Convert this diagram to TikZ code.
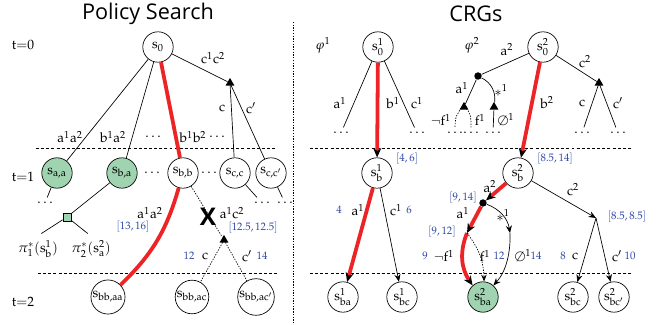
\documentclass[tikz,border=0pt]{standalone}
\usepackage[no-math]{fontspec}
\newfontfamily\titlefont{Open Sans}
\usepackage{mathpazo}
\usepackage{tikz}
\usetikzlibrary{arrows.meta, shapes.geometric, positioning}

\definecolor{leafgreen}{RGB}{160,212,176}
\definecolor{optred}{RGB}{236,36,38}
\definecolor{boundblue}{RGB}{48,72,168}

\tikzset{
  state/.style={circle, draw, line width=0.5pt, minimum size=22.5pt, inner sep=0.5pt},
  goal/.style={state, fill=leafgreen},
  chance/.style={regular polygon, regular polygon sides=3, fill, inner sep=0pt, minimum size=7.5pt},
  joint/.style={circle, fill, inner sep=0pt, minimum size=5.5pt},
  bound/.style={text=boundblue, font=\footnotesize},
  edge/.style={line width=0.5pt},
  opt/.style={draw=optred, line width=2.8pt},
  optarrow/.style={opt, -{Stealth[length=7pt, width=6pt, color=black]}},
  arc/.style={edge, -{Stealth[length=5.5pt, width=4.5pt]}},
  fine/.style={line width=0.5pt, dash pattern=on 1pt off 1pt},
  level/.style={line width=0.5pt, dash pattern=on 2.2pt off 1.6pt},
  title/.style={font=\titlefont\fontsize{16}{18}\selectfont}
}

\begin{document}
\begin{tikzpicture}[x=0.74pt, y=-0.74pt]
    \useasboundingbox (0,0) rectangle (666,325);

    % 1. Titles, time steps, separators
    \node[title] (titlePS) at (148,14) {Policy Search};
    \node[title] (titleCRG) at (476,14) {CRGs};
    \node (t0) at (23,45) {$\mathrm{t{=}0}$};
    \node (t1) at (23,177) {$\mathrm{t{=}1}$};
    \node (t2) at (23,302) {$\mathrm{t{=}2}$};
    \draw[level] (36,148) -- (275,148);
    \draw[level] (38,273) -- (277,273);
    \draw[level] (310,148) -- (435,148);
    \draw[level] (438,148) -- (633,148);
    \draw[level] (310,273) -- (435,273);
    \draw[level] (438,273) -- (633,273);
    \draw[fine] (293,22) -- (293,325);

    % 2. Policy search: nodes
    \node[state] (s0) at (158,47) {$\mathrm{s}_0$};
    \node[chance] (c0) at (230,83) {};
    \node[goal] (saa) at (57,173) {$\mathrm{s_{a,a}}$};
    \node[goal] (sba) at (122,173) {$\mathrm{s_{b,a}}$};
    \node (dotsA) at (152,173) {$\dots$};
    \node[state] (sbb) at (183,173) {$\mathrm{s_{b,b}}$};
    \node (dotsB) at (209,173) {$\dots$};
    \node[state] (scc) at (235,173) {$\mathrm{s_{c,c}}$};
    \node[state] (sccp) at (271,173) {$\mathrm{s_{c,c'}}$};
    \node (saaDots) at (45,203) {$\dots$};
    \node (sccDots) at (262,203) {$\dots$};
    \node (sccpDots) at (285,203) {$\dots$};
    \node[draw, fill=leafgreen, line width=0.5pt, inner sep=0pt, minimum size=6pt] (pol) at (67,217) {};
    \node (pi1) at (38,249) {$\pi_1^*(\mathrm{s_b^1})$};
    \node (pi2) at (91,249) {$\pi_2^*(\mathrm{s_a^2})$};
    \node[chance] (c1) at (224,240) {};
    \node[state] (sbbaa) at (108,297) {$\mathrm{s_{bb,aa}}$};
    \node[state] (sbbac) at (192,297) {$\mathrm{s_{bb,ac}}$};
    \node[state] (sbbacp) at (256,297) {$\mathrm{s_{bb,ac'}}$};

    % 3. Policy search: edges
    \draw[edge] (s0) -- (saa);
    \draw[edge] (s0) -- (sba);
    \draw[opt] (s0) -- (sbb);
    \draw[edge] (s0) -- (c0);
    \draw[edge] (c0.center) -- (scc);
    \draw[edge] (c0.center) -- (sccp);
    \draw[edge] (saa) -- (saaDots);
    \draw[edge] (sba) -- (pol);
    \draw[edge, shorten >=3pt] (pol) -- (pi1.north);
    \draw[edge, shorten >=3pt] (pol) -- (pi2.north);
    \draw[edge] (scc) -- (sccDots);
    \draw[edge] (sccp) -- (sccpDots);
    \draw[opt] (sbb) to[bend left=15] (sbbaa);
    \draw[fine] (sbb) -- (c1);
    \draw[fine] (c1.center) -- (sbbac);
    \draw[fine] (c1.center) -- (sbbacp);
    \node[font=\titlefont\bfseries\fontsize{18}{18}\selectfont] (cut) at (208,217) {X};

    % 4. Policy search: labels
    \node (lc1c2) at (213,58) {$\mathrm{c^1c^2}$};
    \node (lc) at (222,108) {$\mathrm{c}$};
    \node (lcp) at (251,108) {$\mathrm{c'}$};
    \node (laa) at (70,137) {$\mathrm{a^1a^2}$};
    \node (lba) at (113,137) {$\mathrm{b^1a^2}$};
    \node (ldotsA) at (153,137) {$\dots$};
    \node (lbb) at (193,137) {$\mathrm{b^1b^2}$};
    \node (ldotsB) at (217,137) {$\dots$};
    \node (laa2) at (150,213) {$\mathrm{a^1a^2}$};
    \node[bound] (baa2) at (133,227) {$[13, 16]$};
    \node (lac2) at (232,213) {$\mathrm{a^1c^2}$};
    \node[bound] (bac2) at (253,228) {$[12.5, 12.5]$};
    \node[bound] (bc) at (189,256) {$12$};
    \node (lc2) at (205,256) {$\mathrm{c}$};
    \node (lcp2) at (247,256) {$\mathrm{c'}$};
    \node[bound] (bcp) at (262,256) {$14$};

    % 5. CRGs: nodes
    \node (phi1) at (323,45) {$\varphi^1$};
    \node (phi2) at (472,45) {$\varphi^2$};
    \node[state] (r1) at (378,47) {$\mathrm{s_0^1}$};
    \node (r1a) at (341,133) {$\dots$};
    \node (r1c) at (417,133) {$\dots$};
    \node[state] (b1) at (377,173) {$\mathrm{s_b^1}$};
    \node[state] (ba1) at (343,297) {$\mathrm{s_{ba}^1}$};
    \node[state] (bc1) at (402,297) {$\mathrm{s_{bc}^1}$};
    \node[state] (r2) at (543,47) {$\mathrm{s_0^2}$};
    \node[joint] (j1) at (478,76) {};
    \node[chance] (cL1) at (464,107) {};
    \node[chance] (cR1) at (494,107) {};
    \node[chance] (cC1) at (599,83) {};
    \node (nfDots) at (455,133) {$\dots$};
    \node (fDots) at (471,133) {$\dots$};
    \node (eDots) at (493,133) {$\dots$};
    \node (cDots) at (582,133) {$\dots$};
    \node (cpDots) at (618,133) {$\dots$};
    \node[state] (b2) at (518,173) {$\mathrm{s_b^2}$};
    \node[joint] (j2) at (483,203) {};
    \coordinate (cL2) at (467,233);
    \coordinate (cR2) at (510,233);
    \coordinate (cC2) at (596,218);
    \node[goal] (ba2) at (483,297) {$\mathrm{s_{ba}^2}$};
    \node[state] (bc2) at (573,297) {$\mathrm{s_{bc}^2}$};
    \node[state] (bcp2) at (614,297) {$\mathrm{s_{bc'}^2}$};

    % 6. CRGs: edges
    \draw[edge] (r1) -- (r1a);
    \draw[edge] (r1) -- (r1c);
    \draw[optarrow] (r1) -- (b1);
    \draw[optarrow] (b1) -- (ba1);
    \draw[arc] (b1) -- (bc1);
    \draw[edge] (r2) -- (j1);
    \draw[edge] (j1) -- (cL1);
    \draw[edge] (j1) to[bend left=35] (cR1);
    \draw[fine] (cL1.center) to[out=-150, in=90] (nfDots.north);
    \draw[fine] (cL1.center) to[out=-30, in=90] (fDots.north);
    \draw[edge] (cR1) -- (eDots);
    \draw[edge] (r2) -- (cC1);
    \draw[edge] (cC1.center) -- (cDots);
    \draw[edge] (cC1.center) -- (cpDots);
    \draw[optarrow] (r2) -- (b2);
    \draw[optarrow] (b2) -- (j2);
    \draw[optarrow] (j2) -- (cL2);
    \draw[arc] (j2) to[bend left=30] (cR2);
    \draw[optarrow] (cL2) to[bend right=28] (ba2);
    \draw[fine, -{Stealth[length=5pt, width=4pt]}] (cL2) to[bend left=18] (ba2);
    \draw[arc] (cR2) to[out=-88, in=48, looseness=0.9] (ba2);
    \draw[arc] (b2) -- (cC2);
    \draw[arc] (cC2) -- (bc2);
    \draw[arc] (cC2) -- (bcp2);

    % 7. CRGs: labels
    \node (la1) at (340,103) {$\mathrm{a^1}$};
    \node (lb1) at (393,103) {$\mathrm{b^1}$};
    \node (lc1) at (417,103) {$\mathrm{c^1}$};
    \node[bound] (bb1) at (407,159) {$[4, 6]$};
    \node[bound] (bba1) at (339,210) {$4$};
    \node (lba1) at (358,210) {$\mathrm{a^1}$};
    \node (lbc1) at (396,210) {$\mathrm{c^1}$};
    \node[bound] (bbc1) at (409,210) {$6$};
    \node (la2) at (507,50) {$\mathrm{a^2}$};
    \node (lc2top) at (585,62) {$\mathrm{c^2}$};
    \node (la1top) at (462,88) {$\mathrm{a^1}$};
    \node (lstar) at (501,90) {${*}^1$};
    \node (lnf) at (441,120) {$\neg \mathrm{f^1}$};
    \node (lf) at (480,120) {$\mathrm{f^1}$};
    \node (le) at (506,120) {$\emptyset^1$};
    \node (lb2) at (547,103) {$\mathrm{b^2}$};
    \node (lcc) at (582,103) {$\mathrm{c}$};
    \node (lccp) at (618,103) {$\mathrm{c'}$};
    \node[bound] (bb2) at (555,159) {$[8.5, 14]$};
    \node (la2b) at (490,187) {$\mathrm{a^2}$};
    \node[bound] (bj2) at (463,198) {$[9, 14]$};
    \node (la1b) at (463,213) {$\mathrm{a^1}$};
    \node (lstarb) at (503,215) {${*}^1$};
    \node[bound] (bcL2) at (442,232) {$[9, 12]$};
    \node[bound] (bnf) at (425,256) {$9$};
    \node (lnfb) at (444,256) {$\neg \mathrm{f^1}$};
    \node (lfb) at (485,256) {$\mathrm{f^1}$};
    \node[bound] (bf) at (499,256) {$12$};
    \node (leb) at (523,256) {$\emptyset^1$};
    \node[bound] (be) at (536,256) {$14$};
    \node (lc2b) at (573,190) {$\mathrm{c^2}$};
    \node[bound] (bcC2) at (627,217) {$[8.5, 8.5]$};
    \node[bound] (bbc2) at (563,256) {$8$};
    \node (lcb) at (575,256) {$\mathrm{c}$};
    \node (lcpb) at (617,256) {$\mathrm{c'}$};
    \node[bound] (bbcp2) at (630,256) {$10$};
\end{tikzpicture}
\end{document}
